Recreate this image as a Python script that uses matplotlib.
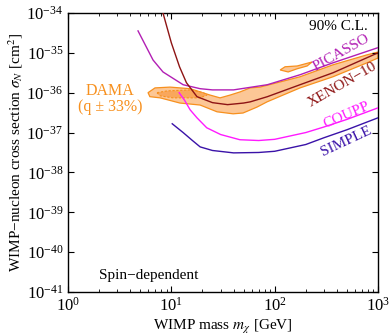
import matplotlib
matplotlib.use("Agg")
import matplotlib.pyplot as plt
import numpy as np
from matplotlib.ticker import LogLocator, NullFormatter

plt.rcParams['font.family'] = ['Liberation Serif', 'DejaVu Serif']
plt.rcParams['mathtext.fontset'] = 'stix'

# WIMP mass [GeV] and log10(sigma / cm^2)
xenon_mass = [8.3, 10, 12, 14, 17.7, 25, 35, 50, 58, 85, 176, 367, 1000]
xenon_logsig = [-34.0, -34.75, -35.35, -35.75, -36.1, -36.25, -36.3, -36.26, -36.23, -36.1, -35.8, -35.5, -35.0]

picasso_mass = [4.76, 6.65, 8.3, 13, 19, 25, 40, 85, 176, 367, 1000]
picasso_logsig = [-34.45, -35.18, -35.48, -35.8, -35.9, -35.93, -35.93, -35.8, -35.55, -35.25, -34.87]

coupp_mass = [11.9, 13.5, 15.2, 17.7, 22, 30, 46, 70, 100, 200, 300, 500, 1000]
coupp_logsig = [-36.0, -36.2, -36.43, -36.63, -36.88, -37.05, -37.18, -37.2, -37.17, -37.0, -36.86, -36.67, -36.38]

simple_mass = [10.2, 13, 16, 19, 25, 40, 70, 100, 200, 300, 500, 1000]
simple_logsig = [-36.78, -37.0, -37.2, -37.36, -37.45, -37.51, -37.5, -37.47, -37.3, -37.13, -36.93, -36.63]

# DAMA allowed region (outer contour), plus upper island and inner contour
dama_mass = [5.95, 6.95, 9.7, 15.2, 19.0, 23.7, 29.6, 37.0, 46.3, 57.8, 72, 113, 176, 367, 784, 1000,
             1000, 784, 367, 176, 120.5, 84.4, 67.6, 49.4, 39.6, 27.7, 19.0, 12.1, 7.8, 6.2]
dama_logsig = [-36.0, -35.88, -35.86, -35.9, -35.98, -36.06, -36.13, -36.06, -35.98, -35.88, -35.86, -35.73, -35.6, -35.3, -35.05, -34.98,
               -35.13, -35.25, -35.6, -35.88, -36.06, -36.23, -36.36, -36.51, -36.53, -36.48, -36.31, -36.26, -36.13, -36.1]

island_mass = [113, 126, 165, 230, 206, 165, 135]
island_logsig = [-35.43, -35.35, -35.33, -35.23, -35.33, -35.4, -35.48]

inner_mass = [7.27, 9.1, 15.2, 20.3, 22.2, 19.0, 10.4, 7.8]
inner_logsig = [-36.0, -35.955, -35.93, -36.0, -36.055, -36.13, -36.13, -36.08]

fig = plt.figure(figsize=(3.89, 3.33), dpi=100)
ax = fig.add_axes([0.1748, 0.1231, 0.797, 0.838])

orange = '#f7901e'
ax.fill(dama_mass, 10 ** np.array(dama_logsig), facecolor='#fcc796', edgecolor=orange, lw=0.9, zorder=1)
ax.fill(island_mass, 10 ** np.array(island_logsig), facecolor='#fcc796', edgecolor=orange, lw=0.9, zorder=1)
ax.fill(inner_mass, 10 ** np.array(inner_logsig), facecolor='#f9a75c', edgecolor=orange, lw=0.8,
        linestyle=(0, (2, 1.5)), zorder=2)

ax.plot(picasso_mass, 10 ** np.array(picasso_logsig), color='#b21fb4', lw=1.0, zorder=3)
ax.plot(xenon_mass, 10 ** np.array(xenon_logsig), color='#8e1414', lw=1.0, zorder=3)
ax.plot(coupp_mass, 10 ** np.array(coupp_logsig), color='#ff1aff', lw=1.0, zorder=3)
ax.plot(simple_mass, 10 ** np.array(simple_logsig), color='#3a12a8', lw=1.0, zorder=3)

ax.set_xscale('log')
ax.set_yscale('log')
ax.set_xlim(1, 1000)
ax.set_ylim(1e-41, 1e-34)

ax.xaxis.set_minor_locator(LogLocator(base=10, subs=np.arange(2, 10)))
ax.xaxis.set_minor_formatter(NullFormatter())
ax.yaxis.set_minor_locator(LogLocator(base=10, subs=[]))
ax.tick_params(which='both', direction='in', top=True, right=True, labelsize=12)
ax.tick_params(which='major', length=4, width=0.8)
ax.tick_params(which='minor', length=2, width=0.6)
for s in ax.spines.values():
    s.set_linewidth(1.0)

ax.set_xlabel('WIMP mass $m_\\chi$ [GeV]', fontsize=11, labelpad=2)
ax.set_ylabel('WIMP\u2212nucleon cross section $\\sigma_N$ [cm$^2$]', fontsize=11, labelpad=1)

kw = dict(ha='center', va='center', rotation_mode='anchor', fontsize=11)
ax.text(440, 10 ** -35.0, 'PICASSO', color='#b21fb4', rotation=29, **kw)
ax.text(450, 10 ** -35.8, 'XENON\u221210', color='#8e1414', rotation=30, **kw)
ax.text(502, 10 ** -36.56, 'COUPP', color='#ff1aff', rotation=23, **kw)
ax.text(491, 10 ** -37.23, 'SIMPLE', color='#3a12a8', rotation=25, **kw)

ax.text(2.55, 10 ** -35.955, 'DAMA', color=orange, ha='center', va='center', fontsize=11.5)
ax.text(2.55, 10 ** -36.36, '(q \u00b1 33%)', color=orange, ha='center', va='center', fontsize=11.5)
ax.text(800, 10 ** -34.35, '90% C.L.', ha='right', va='center', fontsize=11)
ax.text(2.0, 10 ** -40.59, 'Spin\u2212dependent', ha='left', va='center', fontsize=11)

fig.savefig('out.png', dpi=100)
